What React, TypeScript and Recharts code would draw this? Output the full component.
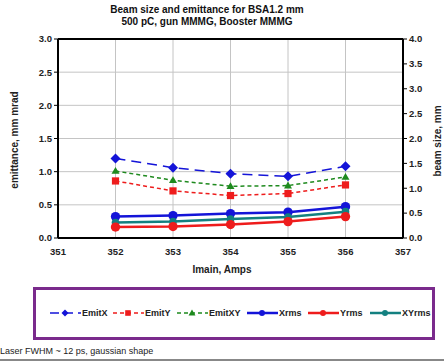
import React from 'react';
import {
  LineChart,
  Line,
  XAxis,
  YAxis,
  CartesianGrid,
  ReferenceLine,
} from 'recharts';

// Magnet current, Amps
const imain = [352, 353, 354, 355, 356];

// Emittance, mm mrad (left axis)
const emitX = [1.2, 1.06, 0.97, 0.93, 1.08];
const emitY = [0.86, 0.71, 0.64, 0.67, 0.8];
const emitXY = [1.01, 0.87, 0.78, 0.79, 0.92];

// Beam size, mm (right axis)
const xrms = [0.43, 0.45, 0.49, 0.52, 0.63];
const yrms = [0.22, 0.23, 0.27, 0.33, 0.43];
const xyrms = [0.31, 0.33, 0.38, 0.42, 0.53];

const xTicks = [351, 352, 353, 354, 355, 356, 357];
const leftTicks = [0, 0.5, 1, 1.5, 2, 2.5, 3];
const rightTicks = [0, 0.5, 1, 1.5, 2, 2.5, 3, 3.5, 4];

const data = imain.map((x, i) => ({
  x,
  emitX: emitX[i],
  emitY: emitY[i],
  emitXY: emitXY[i],
  xrms: xrms[i],
  yrms: yrms[i],
  xyrms: xyrms[i],
}));

const BLUE = '#1414d8';
const RED = '#ee1c1c';
const GREEN = '#1e8a1e';
const TEAL = '#138080';
const FONT = '"Liberation Sans", Arial, sans-serif';

type Shape = 'diamond' | 'square' | 'triangle' | 'circle';

const marker = (shape: Shape, cx: number, cy: number, color: string, r: number) => {
  switch (shape) {
    case 'diamond':
      return <path d={`M${cx},${cy - r} L${cx + r},${cy} L${cx},${cy + r} L${cx - r},${cy} Z`} fill={color} />;
    case 'square':
      return <rect x={cx - r * 0.8} y={cy - r * 0.8} width={r * 1.6} height={r * 1.6} fill={color} />;
    case 'triangle':
      return <path d={`M${cx},${cy - r} L${cx + r},${cy + r * 0.7} L${cx - r},${cy + r * 0.7} Z`} fill={color} />;
    default:
      return <circle cx={cx} cy={cy} r={r * 0.85} fill={color} />;
  }
};

const makeDot = (shape: Shape, color: string, r: number) => (props: any) => {
  const { cx, cy, index } = props;
  if (cx == null || cy == null) return <g key={index} />;
  return <g key={index}>{marker(shape, cx, cy, color, r)}</g>;
};

const tickStyle = { fontSize: 9.5, fontWeight: 700, fill: '#222', fontFamily: FONT };
const axisTitle: React.CSSProperties = { fontSize: 10, fontWeight: 700, color: '#222', whiteSpace: 'nowrap' };

// left edge of each legend entry inside the box
const legendItems: { name: string; color: string; shape: Shape; dash?: string; width: number; left: number }[] = [
  { name: 'EmitX', color: BLUE, shape: 'diamond', dash: '9 5', width: 1.5, left: 14 },
  { name: 'EmitY', color: RED, shape: 'square', dash: '4 3', width: 1.5, left: 77 },
  { name: 'EmitXY', color: GREEN, shape: 'triangle', dash: '4 3', width: 1.5, left: 141 },
  { name: 'Xrms', color: BLUE, shape: 'circle', width: 2.5, left: 211 },
  { name: 'Yrms', color: RED, shape: 'circle', width: 2.5, left: 272 },
  { name: 'XYrms', color: TEAL, shape: 'circle', width: 2.5, left: 334 },
];

const App: React.FC = () => {
  return (
    <div
      style={{
        position: 'absolute',
        left: 0,
        top: 0,
        width: 444,
        height: 361,
        background: '#fff',
        fontFamily: FONT,
        overflow: 'hidden',
      }}
    >
      {/* Title */}
      <div
        style={{
          position: 'absolute',
          left: 0,
          top: 4,
          width: 414,
          textAlign: 'center',
          fontSize: 10,
          fontWeight: 700,
          lineHeight: '12px',
          color: '#111',
        }}
      >
        Beam size and emittance for BSA1.2 mm
        <br />
        500 pC, gun MMMG, Booster MMMG
      </div>

      <div style={{ position: 'absolute', left: 0, top: 0 }}>
        <LineChart width={444} height={280} data={data} margin={{ top: 39, right: 0, bottom: 0, left: 0 }}>
          <CartesianGrid stroke="#c4c4c4" strokeWidth={1} yAxisId="left" />
          <XAxis
            dataKey="x"
            type="number"
            domain={[351, 357]}
            ticks={xTicks}
            height={42}
            axisLine={{ stroke: '#000', strokeWidth: 2 }}
            tickLine={false}
            tick={tickStyle}
            tickMargin={4}
          />
          <YAxis
            yAxisId="left"
            domain={[0, 3]}
            ticks={leftTicks}
            width={58}
            interval={0}
            tickFormatter={(v: number) => v.toFixed(1)}
            axisLine={{ stroke: '#000', strokeWidth: 2 }}
            tickLine={{ stroke: '#000' }}
            tickSize={4}
            tick={tickStyle}
          />
          <YAxis
            yAxisId="right"
            orientation="right"
            domain={[0, 4]}
            ticks={rightTicks}
            width={41}
            interval={0}
            tickFormatter={(v: number) => v.toFixed(1)}
            axisLine={{ stroke: '#000', strokeWidth: 2 }}
            tickLine={{ stroke: '#000' }}
            tickSize={4}
            tick={tickStyle}
          />
          <ReferenceLine yAxisId="left" y={3} stroke="#000" strokeWidth={2} />

          <Line
            yAxisId="left"
            dataKey="emitX"
            stroke={BLUE}
            strokeWidth={1.5}
            strokeDasharray="10 6"
            dot={makeDot('diamond', BLUE, 5)}
            isAnimationActive={false}
          />
          <Line
            yAxisId="left"
            dataKey="emitXY"
            stroke={GREEN}
            strokeWidth={1.5}
            strokeDasharray="4 3"
            dot={makeDot('triangle', GREEN, 4)}
            isAnimationActive={false}
          />
          <Line
            yAxisId="left"
            dataKey="emitY"
            stroke={RED}
            strokeWidth={1.5}
            strokeDasharray="4 3"
            dot={makeDot('square', RED, 4.5)}
            isAnimationActive={false}
          />
          <Line
            yAxisId="right"
            dataKey="xrms"
            stroke={BLUE}
            strokeWidth={2.5}
            dot={makeDot('circle', BLUE, 5.5)}
            isAnimationActive={false}
          />
          <Line
            yAxisId="right"
            dataKey="xyrms"
            stroke={TEAL}
            strokeWidth={2.5}
            dot={makeDot('circle', TEAL, 4.5)}
            isAnimationActive={false}
          />
          <Line
            yAxisId="right"
            dataKey="yrms"
            stroke={RED}
            strokeWidth={2.5}
            dot={makeDot('circle', RED, 5.5)}
            isAnimationActive={false}
          />
        </LineChart>
      </div>

      {/* Axis titles */}
      <div
        style={{
          ...axisTitle,
          position: 'absolute',
          left: 14,
          top: 140,
          transform: 'translate(-50%, -50%) rotate(-90deg)',
        }}
      >
        emittance, mm mrad
      </div>
      <div
        style={{
          ...axisTitle,
          position: 'absolute',
          left: 437,
          top: 141,
          transform: 'translate(-50%, -50%) rotate(-90deg)',
        }}
      >
        beam size, mm
      </div>
      <div style={{ ...axisTitle, position: 'absolute', left: 222, top: 269, transform: 'translate(-50%, -50%)' }}>
        Imain, Amps
      </div>

      {/* Legend box */}
      <div
        style={{
          position: 'absolute',
          left: 33,
          top: 287,
          width: 396,
          height: 47,
          border: '3px solid #7a2a8c',
        }}
      >
        {legendItems.map((it) => (
          <div
            key={it.name}
            style={{ position: 'absolute', left: it.left, top: 17, display: 'flex', alignItems: 'center' }}
          >
            <svg width={31} height={12}>
              <line
                x1={0}
                y1={6}
                x2={31}
                y2={6}
                stroke={it.color}
                strokeWidth={it.width}
                strokeDasharray={it.dash}
              />
              {marker(it.shape, 15, 6, it.color, 3.5)}
            </svg>
            <span style={{ fontSize: 9, fontWeight: 700, color: '#222', marginLeft: 1 }}>{it.name}</span>
          </div>
        ))}
      </div>

      {/* Footnote */}
      <div style={{ position: 'absolute', left: 0, top: 346, fontSize: 9, color: '#222' }}>
        Laser FWHM ~ 12 ps, gaussian shape
      </div>
      <div style={{ position: 'absolute', left: 0, top: 359, width: 444, height: 2, background: '#888' }} />
    </div>
  );
};

export default App;
